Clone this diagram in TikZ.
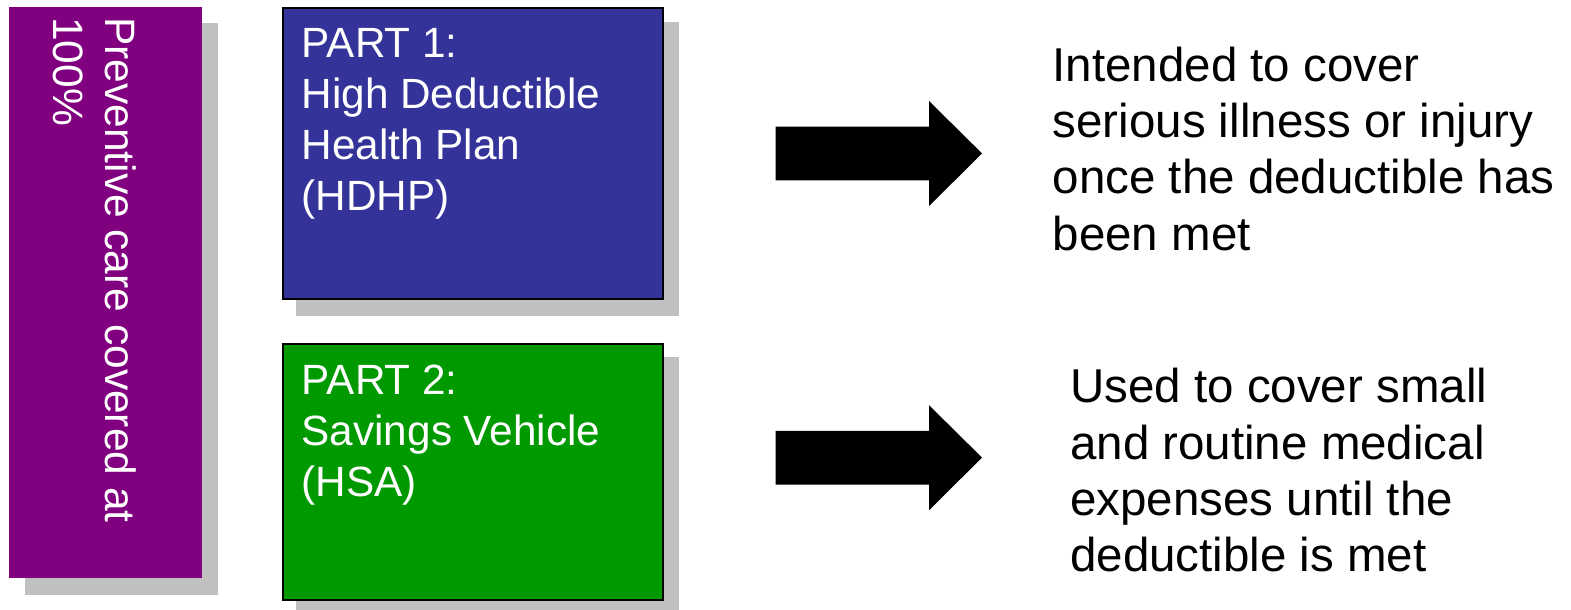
\documentclass[tikz,border=0pt]{standalone}
\usepackage{fontspec}
\setmainfont{Liberation Sans}
\definecolor{pplum}{HTML}{800080}
\definecolor{hblue}{HTML}{333399}
\definecolor{hgreen}{HTML}{009900}
\definecolor{shadegray}{HTML}{C0C0C0}
\begin{document}
\begin{tikzpicture}[x=1pt,y=-1pt,
  shadowfill/.style={fill=shadegray, draw=none},
  sidebar/.style={fill=pplum, draw=none, inner sep=0pt, anchor=north west},
  partbox/.style={draw=black, line width=2pt, inner sep=0pt, anchor=north west},
  boxtext/.style={text=white, inner sep=0pt, align=left, anchor=north west, font=\fontsize{42.3}{51}\selectfont},
  desc/.style={text=black, inner sep=0pt, align=left, anchor=north west, font=\fontsize{47.5}{56.4}\selectfont},
  blockarrow/.style={fill=black, draw=none}]
\useasboundingbox (0,0) rectangle (1571,610);
% shadows
\fill[shadowfill] (25,23) rectangle (218,595);
\fill[shadowfill] (296,22) rectangle (679,316);
\fill[shadowfill] (296,357) rectangle (679,620);
% left bar
\node[sidebar, minimum width=193pt, minimum height=571pt] (bar) at (9,7) {};
\node[text=white, inner sep=0pt, align=left, anchor=north west, rotate=-90,
  font=\fontsize{42.5}{52}\selectfont] (bartext) at (136.5,17) {Preventive care covered at\\100\%};
% part boxes
\node[partbox, fill=hblue, minimum width=380.5pt, minimum height=291pt] (p1) at (281.7,7) {};
\node[partbox, fill=hgreen, minimum width=380.5pt, minimum height=255.5pt] (p2) at (281.7,343) {};
\node[boxtext] (t1) at (301.5,28) {PART 1:\\High Deductible\\Health Plan\\(HDHP)};
\node[boxtext] (t2) at (301.5,365) {PART 2:\\Savings Vehicle\\(HSA)};
% block arrows
\coordinate (a1) at (775.7,153.4);
\coordinate (a2) at (775.7,457.6);
\fill[blockarrow] (a1) ++(0,-26.7) -- ++(153.3,0) -- ++(0,-25.7) -- ++(53,52.4)
  -- ++(-53,52.7) -- ++(0,-25.7) -- ++(-153.3,0) -- cycle;
\fill[blockarrow] (a2) ++(0,-26.7) -- ++(153.3,0) -- ++(0,-25.7) -- ++(53,52.4)
  -- ++(-53,52.7) -- ++(0,-25.7) -- ++(-153.3,0) -- cycle;
% descriptions
\node[desc] (d1) at (1052.5,46.5) {Intended to cover\\serious illness or injury\\once the deductible has\\been met};
\node[desc] (d2) at (1070,368) {Used to cover small\\and routine medical\\expenses until the\\deductible is met};
\end{tikzpicture}
\end{document}
